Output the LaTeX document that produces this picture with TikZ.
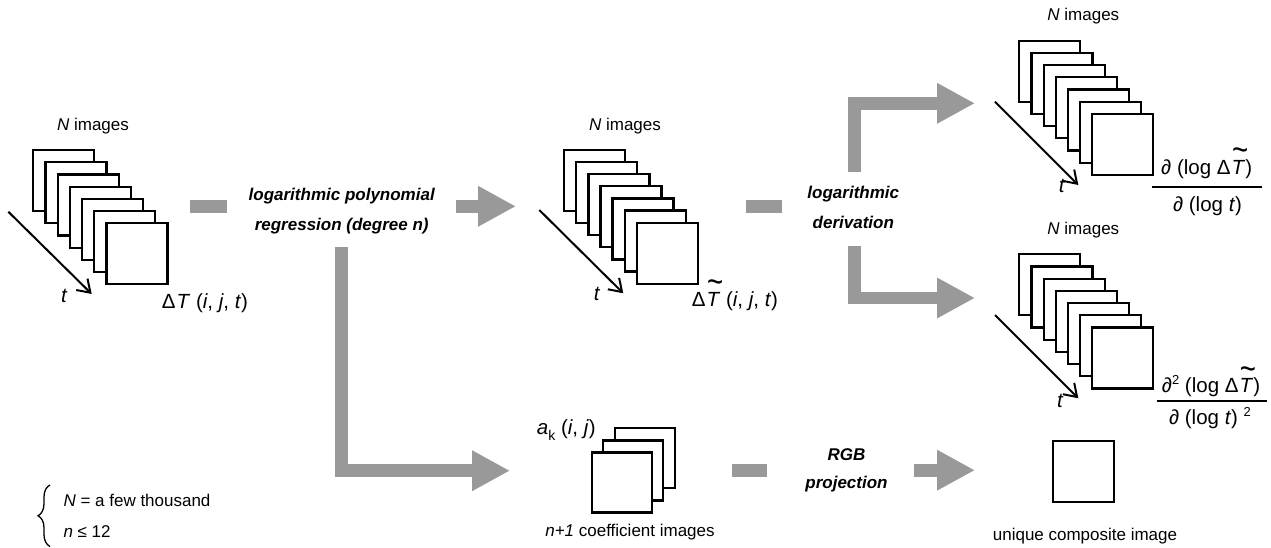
\documentclass[tikz,border=0pt]{standalone}
\usepackage{fontspec}
\setmainfont{Liberation Sans}
\usetikzlibrary{arrows.meta,decorations.pathreplacing}
\definecolor{flowgray}{RGB}{153,153,153}
\newcommand\tilT{\rlap{\hspace{0.02em}\raisebox{0.62em}{\scalebox{1.35}[1.7]{\textasciitilde}}}\textit{T}}
\begin{document}
\begin{tikzpicture}[x=1pt,y=-1pt,
  imgsq/.style={draw,fill=white,line width=2.2pt,minimum width=61pt,minimum height=61pt,inner sep=0pt,outer sep=0pt,anchor=north west},
  timearrow/.style={line width=2pt,-{Straight Barb[length=12pt,width=16pt]}},
  flow/.style={draw=flowgray,line width=12.7pt,line join=miter},
  flowarrow/.style={flow,-{Triangle[length=38pt,width=38pt]}},
  reg/.style={font=\fontsize{17}{20}\selectfont,inner sep=0pt,anchor=base},
  mathlbl/.style={font=\fontsize{20.5}{24}\selectfont,inner sep=0pt,anchor=base},
  tlbl/.style={font=\fontsize{20.5}{24}\selectfont\itshape,inner sep=0pt,anchor=base},
  proc/.style={font=\fontsize{17}{20}\selectfont\bfseries\itshape,inner sep=0pt,anchor=base},
  fracbar/.style={line width=1.8pt},
]
\useasboundingbox (0,0) rectangle (1271,547);

% ---------- left stack ----------
\foreach \k in {0,...,6}
  \node[imgsq] (L\k) at ({33.3+12.2*\k},{150+12.2*\k}) {};
\coordinate (Lta) at (8.3,211.7);
\coordinate (Ltb) at (91.7,294);
\draw[timearrow] (Lta) -- (Ltb);
\node[tlbl] (Lt) at (64,302) {t};
\node[reg] (LN) at (93,130.7) {\textit{N} images};
\node[mathlbl] (Llab) at (205,308) {Δ\kern1pt\textit{T} (\textit{i}, \textit{j}, \textit{t})};

% ---------- middle stack ----------
\foreach \k in {0,...,6}
  \node[imgsq] (M\k) at ({564.3+12.07*\k},{150+12.1*\k}) {};
\coordinate (Mta) at (539.3,210);
\coordinate (Mtb) at (623.3,293.3);
\draw[timearrow] (Mta) -- (Mtb);
\node[tlbl] (Mt) at (596.7,300) {t};
\node[reg] (MN) at (625,130.7) {\textit{N} images};
\node[mathlbl] (Mlab) at (735,306) {Δ\kern1pt\tilT\ (\textit{i}, \textit{j}, \textit{t})};

% ---------- top right stack ----------
\foreach \k in {0,...,6}
  \node[imgsq] (A\k) at ({1019.3+12.17*\k},{40.7+12.2*\k}) {};
\coordinate (Ata) at (995,101.7);
\coordinate (Atb) at (1078.3,185);
\draw[timearrow] (Ata) -- (Atb);
\node[tlbl] (At) at (1061.7,192) {t};
\node[reg] (AN) at (1083.3,20.7) {\textit{N} images};
\node[mathlbl] (Anum) at (1206.7,174.3) {\textit{∂} (log Δ\kern1pt\tilT)};
\coordinate (Abara) at (1151.7,187.3);
\coordinate (Abarb) at (1261.7,187.3);
\draw[fracbar] (Abara) -- (Abarb);
\node[mathlbl] (Aden) at (1207.5,211) {\textit{∂} (log \textit{t})};

% ---------- bottom right stack ----------
\foreach \k in {0,...,6}
  \node[imgsq] (B\k) at ({1019.3+12.17*\k},{254.3+12.2*\k}) {};
\coordinate (Bta) at (995,315);
\coordinate (Btb) at (1078.3,398.3);
\draw[timearrow] (Bta) -- (Btb);
\node[tlbl] (Bt) at (1060,407) {t};
\node[reg] (BN) at (1083.3,234.5) {\textit{N} images};
\node[mathlbl] (Bnum) at (1211,392.7) {\textit{∂}\raisebox{0.38em}{\fontsize{13}{15}\selectfont 2} (log Δ\kern1pt\tilT)};
\coordinate (Bbara) at (1156.7,401);
\coordinate (Bbarb) at (1266.7,401);
\draw[fracbar] (Bbara) -- (Bbarb);
\node[mathlbl] (Bden) at (1210,424.3) {\textit{∂} (log \textit{t}) \raisebox{0.38em}{\fontsize{13}{15}\selectfont 2}};

% ---------- coefficient images ----------
\node[imgsq,minimum width=60pt,minimum height=60pt] (C0) at (615,428.3) {};
\node[imgsq,minimum width=60pt,minimum height=60pt] (C1) at (603.3,440.5) {};
\node[imgsq,minimum width=60pt,minimum height=60pt] (C2) at (591.7,452.5) {};
\node[mathlbl,anchor=base west] (Clab) at (536.7,434) {\textit{a}\raisebox{-0.3em}{\fontsize{14}{16}\selectfont k} (\textit{i}, \textit{j})};
\node[reg] (Ccap) at (630,536.7) {\textit{n+1} coefficient images};

% ---------- composite image ----------
\node[imgsq] (U) at (1053.3,440.7) {};
\node[reg] (Ucap) at (1085,540) {unique composite image};

% ---------- process labels ----------
\node[proc] (P1a) at (341.7,200) {logarithmic polynomial};
\node[proc] (P1b) at (341.7,230) {regression (degree n)};
\node[proc] (P2a) at (853.3,198.3) {logarithmic};
\node[proc] (P2b) at (853.3,228.3) {derivation};
\node[proc] (P3a) at (846.5,460) {RGB};
\node[proc] (P3b) at (846.5,488) {projection};

% ---------- gray flow connectors ----------
\coordinate (f1a) at (190,206.3);   \coordinate (f1b) at (226.7,206.3);
\coordinate (f2a) at (456,206.3);   \coordinate (f2b) at (516,206.3);
\coordinate (f3a) at (341.2,247);   \coordinate (f3b) at (510,470.7);
\coordinate (f4a) at (745.7,206.3); \coordinate (f4b) at (781.7,206.3);
\coordinate (f5a) at (854.5,171.7); \coordinate (f5b) at (975,103.3);
\coordinate (f6a) at (854.5,245.7); \coordinate (f6b) at (975,298);
\coordinate (f7a) at (731.7,470.7); \coordinate (f7b) at (767.3,470.7);
\coordinate (f8a) at (914,470.2);   \coordinate (f8b) at (975,470.2);
\draw[flow] (f1a) -- (f1b);
\draw[flowarrow] (f2a) -- (f2b);
\draw[flowarrow] (f3a) |- (f3b);
\draw[flow] (f4a) -- (f4b);
\draw[flowarrow] (f5a) |- (f5b);
\draw[flowarrow] (f6a) |- (f6b);
\draw[flow] (f7a) -- (f7b);
\draw[flowarrow] (f8a) -- (f8b);

% ---------- legend ----------
\coordinate (bra) at (50,546.5);
\coordinate (brb) at (50,485);
\draw[line width=1.3pt,decorate,decoration={brace,amplitude=12pt}] (bra) -- (brb);
\node[reg,anchor=base west] (Leg1) at (63.3,506.7) {\textit{N} = a few thousand};
\node[reg,anchor=base west] (Leg2) at (63.3,537.3) {\textit{n} ≤ 12};
\end{tikzpicture}
\end{document}
